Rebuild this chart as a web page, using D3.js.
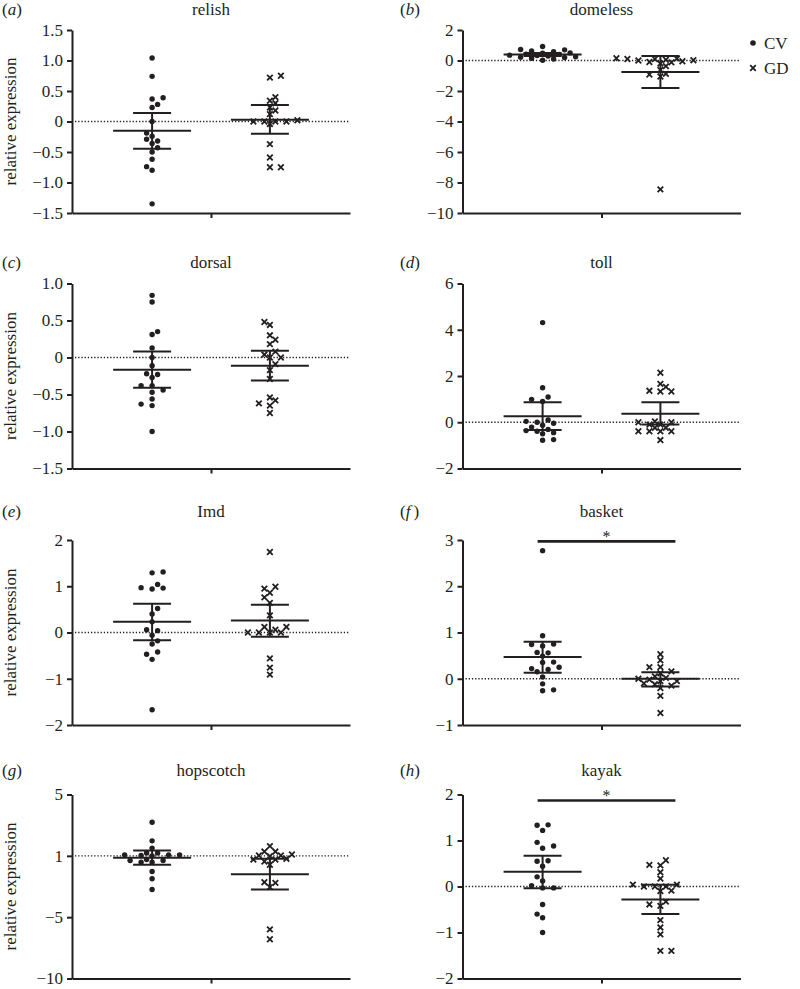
<!DOCTYPE html>
<html><head><meta charset="utf-8">
<script src="https://cdn.jsdelivr.net/npm/d3@7"></script>
<style>body{margin:0;background:#fff} svg{display:block} text{font-family:"Liberation Serif","DejaVu Serif","Noto Serif",serif;}</style>
</head><body><svg id="chart" width="800" height="989"></svg>
<script>
const genes = ["relish","domeless","dorsal","toll","Imd","basket","hopscotch","kayak"];
const panelLetters = ["a","b","c","d","e","f","g","h"];
const groups = ["CV","GD"];

const relishCV = [1.04, 0.74, 0.39, 0.37, 0.28, 0.23, 0.0, -0.19, -0.24, -0.29, -0.32, -0.36, -0.43, -0.50, -0.62, -0.74, -0.80, -1.35];
const relishGD = [0.75, 0.72, 0.40, 0.34, 0.30, 0.23, 0.18, 0.12, 0.02, 0.0, 0.0, -0.04, 0.0, 0.0, -0.37, -0.59, -0.75, -0.75];
const domelessCV = [0.92, 0.72, 0.70, 0.62, 0.58, 0.50, 0.48, 0.42, 0.40, 0.35, 0.32, 0.30, 0.25, 0.22, 0.20, 0.15, 0.10, 0.02];
const domelessGD = [0.15, 0.12, 0.10, 0.10, 0.05, 0.02, 0.0, -0.05, -0.10, -0.12, -0.20, -0.37, -0.62, -0.88, -0.92, -1.05, -8.45];
const dorsalCV = [0.84, 0.75, 0.35, 0.31, 0.13, 0.0, -0.11, -0.22, -0.23, -0.27, -0.38, -0.38, -0.44, -0.47, -0.56, -0.63, -0.65, -1.0];
const dorsalGD = [0.48, 0.44, 0.30, 0.24, 0.18, 0.08, 0.04, 0.0, 0.0, -0.09, -0.17, -0.29, -0.54, -0.58, -0.62, -0.65, -0.75];
const tollCV = [4.31, 1.49, 1.09, 0.99, 0.90, 0.10, 0.04, 0.0, -0.04, -0.13, -0.21, -0.31, -0.36, -0.39, -0.45, -0.50, -0.75, -0.78];
const tollGD = [2.14, 1.66, 1.53, 1.36, 1.33, 1.33, 0.04, 0.0, 0.0, -0.10, -0.10, -0.24, -0.24, -0.39, -0.39, -0.39, -0.39, -0.77];
const ImdCV = [1.31, 1.29, 1.04, 0.97, 0.96, 0.94, 0.52, 0.40, 0.23, 0.06, 0.04, -0.06, -0.18, -0.25, -0.42, -0.47, -0.58, -1.67];
const ImdGD = [1.74, 0.99, 0.95, 0.86, 0.76, 0.64, 0.37, 0.12, 0.12, 0.06, 0.0, 0.0, 0.0, 0.0, -0.56, -0.76, -0.91];
const basketCV = [2.77, 0.93, 0.75, 0.74, 0.71, 0.57, 0.56, 0.49, 0.36, 0.35, 0.25, 0.22, 0.20, 0.15, 0.04, -0.11, -0.24, -0.26];
const basketGD = [0.53, 0.40, 0.25, 0.25, 0.16, 0.12, 0.05, 0.02, 0.0, -0.02, -0.05, -0.05, -0.10, -0.12, -0.15, -0.20, -0.37, -0.74];
const hopscotchCV = [2.74, 1.22, 0.63, 0.24, 0.24, 0.08, 0.08, 0.08, 0.03, 0.0, -0.30, -0.38, -0.38, -0.52, -0.52, -1.28, -1.87, -2.74];
const hopscotchGD = [0.79, 0.35, 0.35, 0.11, 0.03, 0.03, -0.03, -0.24, -0.30, -0.30, -0.46, -0.73, -2.15, -2.20, -2.55, -6.0, -6.8];
const kayakCV = [1.34, 1.33, 1.22, 0.96, 0.88, 0.83, 0.56, 0.55, 0.44, 0.21, 0.12, 0.02, -0.03, -0.03, -0.39, -0.60, -0.68, -1.0];
const kayakGD = [0.57, 0.47, 0.46, 0.31, 0.17, 0.04, 0.04, 0.0, 0.0, 0.0, -0.09, -0.10, -0.33, -0.39, -0.42, -0.73, -0.89, -1.04, -1.4, -1.4];

const cvMean  = [-0.15, 0.40, -0.165, 0.26, 0.23, 0.47, -0.16, 0.32];
const cvUpper = [0.14, 0.50, 0.08, 0.86, 0.62, 0.80, 0.43, 0.67];
const cvLower = [-0.445, 0.29, -0.41, -0.33, -0.165, 0.13, -0.73, -0.04];
const gdMean  = [0.03, -0.75, -0.11, 0.37, 0.26, 0.0, -1.5, -0.28];
const gdUpper = [0.27, 0.29, 0.09, 0.86, 0.60, 0.14, -0.24, 0.04];
const gdLower = [-0.20, -1.8, -0.31, -0.10, -0.09, -0.17, -2.74, -0.60];

const yDomains = [[-1.5,1.5],[-10,2],[-1.5,1.0],[-2,6],[-2,2],[-1,3],[-10,5],[-2,2]];
const yTickValues = [[-1.5,-1,-0.5,0,0.5,1,1.5],[-10,-8,-6,-4,-2,0,2],[-1.5,-1,-0.5,0,0.5,1],[-2,0,2,4,6],[-2,-1,0,1,2],[-1,0,1,2,3],[-10,-5,0,5],[-2,-1,0,1,2]];
const yTickLabels = [["−1.5","−1.0","−0.5","0","0.5","1.0","1.5"],["−10","−8","−6","−4","−2","0","2"],["−1.5","−1.0","−0.5","0","0.5","1.0"],["−2","0","2","4","6"],["−2","−1","0","1","2"],["−1","0","1","2","3"],["−10","−5","1","5"],["−2","−1","0","1","2"]];
const sigLevels = [null, null, null, null, null, 2.97, null, 1.87];
const sigLabel = "*";
const yAxisTitle = "relative expression";

const cvData = [relishCV, domelessCV, dorsalCV, tollCV, ImdCV, basketCV, hopscotchCV, kayakCV];
const gdData = [relishGD, domelessGD, dorsalGD, tollGD, ImdGD, basketGD, hopscotchGD, kayakGD];

// layout
const INK = "#231f20";
const FONT = '"Liberation Serif","DejaVu Serif","Noto Serif",serif';
const colX = [72, 462.5];
const rowTop = [30, 283.5, 540, 794.5];
const rowH = [183, 185, 185, 184];
const titleBase = [15, 268, 517, 776];
const plotW = 278;

const svg = d3.select("#chart");

function swarm(values, y, step, D) {
  const idx = values.map((v, i) => i).sort((a, b) => values[a] - values[b]);
  const placed = [];
  const off = new Array(values.length);
  idx.forEach((i, n) => {
    const py = y(values[i]);
    for (let k = 0; k < 60; k++) {
      const cands = k === 0 ? [0] : (n % 2 ? [k, -k] : [-k, k]);
      let found = null;
      for (const c of cands) {
        const px = c * step;
        if (placed.every(p => Math.hypot(p[0] - px, p[1] - py) >= D)) { found = px; break; }
      }
      if (found !== null) { off[i] = found; placed.push([found, py]); break; }
    }
  });
  return off;
}

const crossPath = s => `M${-s},${-s}L${s},${s}M${-s},${s}L${s},${-s}`;

genes.forEach((gene, i) => {
  const col = i % 2, row = Math.floor(i / 2);
  const ox = colX[col], oy = rowTop[row], h = rowH[row];
  const g = svg.append("g").attr("transform", `translate(${ox},${oy})`);
  const y = d3.scaleLinear().domain(yDomains[i]).range([h, 0]);
  const x = d3.scalePoint().domain(groups).range([0, plotW]).padding(0.68);

  // dotted zero line
  g.append("line").attr("x1", 3).attr("x2", plotW).attr("y1", y(0)).attr("y2", y(0))
    .attr("stroke", INK).attr("stroke-width", 1.3).attr("stroke-dasharray", "1.3,1.9");

  // x axis
  const xa = g.append("g").attr("transform", `translate(0,${h})`)
    .call(d3.axisBottom(d3.scaleLinear().range([0, plotW])).tickValues([0.5]).tickFormat("").tickSize(5).tickSizeOuter(0));
  // y axis
  const ya = g.append("g")
    .call(d3.axisLeft(y).tickValues(yTickValues[i]).tickFormat((d, j) => yTickLabels[i][j]).tickSize(5).tickSizeOuter(0).tickPadding(4));
  [xa, ya].forEach(a => {
    a.attr("font-family", FONT).attr("font-size", 17);
    a.select(".domain").attr("stroke", INK).attr("stroke-width", 2);
    a.selectAll(".tick line").attr("stroke", INK).attr("stroke-width", 2);
    a.selectAll(".tick text").attr("fill", INK).attr("font-family", FONT).style("font-size", "17px");
  });

  // points
  const cvOff = swarm(cvData[i], y, 5.5, 6);
  g.append("g").selectAll("circle").data(cvData[i]).join("circle")
    .attr("cx", (d, j) => x("CV") + cvOff[j]).attr("cy", d => y(d)).attr("r", 2.7).attr("fill", INK);
  const gdOff = swarm(gdData[i], y, 5.5, 6);
  g.append("g").selectAll("path").data(gdData[i]).join("path")
    .attr("transform", (d, j) => `translate(${x("GD") + gdOff[j]},${y(d)})`)
    .attr("d", crossPath(2.8)).attr("stroke", INK).attr("stroke-width", 1.8).attr("fill", "none");

  // mean and error bars
  const stats = [["CV", cvMean[i], cvUpper[i], cvLower[i]], ["GD", gdMean[i], gdUpper[i], gdLower[i]]];
  const eb = g.append("g").attr("stroke", INK).attr("stroke-width", 2);
  stats.forEach(([grp, m, up, lo]) => {
    const cx = x(grp);
    eb.append("line").attr("x1", cx - 39).attr("x2", cx + 39).attr("y1", y(m)).attr("y2", y(m));
    eb.append("line").attr("x1", cx - 19).attr("x2", cx + 19).attr("y1", y(up)).attr("y2", y(up));
    eb.append("line").attr("x1", cx - 19).attr("x2", cx + 19).attr("y1", y(lo)).attr("y2", y(lo));
    eb.append("line").attr("x1", cx).attr("x2", cx).attr("y1", y(up)).attr("y2", y(lo));
  });

  // significance
  if (sigLevels[i] !== null) {
    const ly = y(sigLevels[i]);
    const x1 = x("CV") - 5, x2 = x("GD") + 15;
    g.append("line").attr("x1", x1).attr("x2", x2).attr("y1", ly).attr("y2", ly)
      .attr("stroke", INK).attr("stroke-width", 2.6);
    g.append("text").attr("x", (x1 + x2) / 2).attr("y", ly + 1).attr("text-anchor", "middle")
      .attr("fill", INK).attr("font-family", FONT).style("font-size", "16px").text(sigLabel);
  }

  // title
  svg.append("text").attr("x", ox + plotW / 2).attr("y", titleBase[row]).attr("text-anchor", "middle")
    .attr("fill", INK).attr("font-family", FONT).style("font-size", "17px").text(gene);

  // panel letter
  const pl = svg.append("text").attr("x", col ? 400 : 2).attr("y", titleBase[row])
    .attr("fill", INK).attr("font-family", FONT).style("font-size", "17px");
  pl.append("tspan").text("(");
  pl.append("tspan").style("font-style", "italic").text(panelLetters[i]);
  pl.append("tspan").attr("dx", panelLetters[i] === "f" ? 3 : 0).text(")");

  // y axis title
  if (col === 0) {
    svg.append("text").attr("transform", `translate(16,${oy + h / 2}) rotate(-90)`)
      .attr("text-anchor", "middle").attr("fill", INK)
      .attr("font-family", FONT).style("font-size", "17px").text(yAxisTitle);
  }
});

// legend
const lg = svg.append("g").attr("fill", INK).attr("font-family", FONT).style("font-size", "17px");
lg.append("circle").attr("cx", 753).attr("cy", 43).attr("r", 2.8).attr("fill", INK);
lg.append("text").attr("x", 764).attr("y", 49).text(groups[0]);
lg.append("path").attr("transform", "translate(753,68)").attr("d", crossPath(2.8))
  .attr("stroke", INK).attr("stroke-width", 1.8).attr("fill", "none");
lg.append("text").attr("x", 764).attr("y", 74).text(groups[1]);
</script></body></html>
